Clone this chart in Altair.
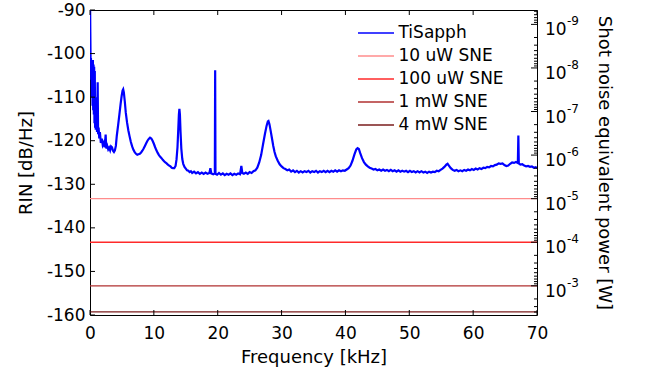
import altair as alt
import pandas as pd

# ---------------- data ----------------
freq_khz = [
    0.00, 0.05, 0.10, 0.15, 0.20, 0.25, 0.30, 0.35, 0.40, 0.45,
    0.50, 0.55, 0.60, 0.65, 0.70, 0.75, 0.80, 0.85, 0.90, 1.00,
    1.10, 1.20, 1.27, 1.35, 1.45, 1.55, 1.70, 1.85, 2.00, 2.15,
    2.30, 2.45, 2.55, 2.70, 2.85, 3.00, 3.15, 3.30, 3.45, 3.60,
    3.75, 3.90, 4.05, 4.20, 4.40, 4.60, 4.80, 4.95, 5.10, 5.20,
    5.30, 5.45, 5.60, 5.80, 6.00, 6.20, 6.40, 6.60, 6.80, 7.00,
    7.20, 7.40, 7.60, 7.80, 8.00, 8.20, 8.40, 8.60, 8.80, 9.00,
    9.20, 9.40, 9.60, 9.80, 10.00, 10.20, 10.40, 10.60, 10.80, 11.00,
    11.20, 11.40, 11.60, 11.80, 12.00, 12.20, 12.40, 12.60, 12.80, 13.00,
    13.20, 13.40, 13.55, 13.70, 13.82, 13.92, 14.00, 14.08, 14.18, 14.30,
    14.45, 14.60, 14.80, 15.00, 15.20, 15.40, 15.60, 15.80, 16.00, 16.30,
    16.60, 16.90, 17.20, 17.50, 17.80, 18.10, 18.40, 18.70, 18.85, 19.00,
    19.30, 19.55, 19.60, 19.65, 19.90, 20.20, 20.50, 20.80, 21.10, 21.40,
    21.70, 22.00, 22.30, 22.60, 22.90, 23.20, 23.50, 23.70, 23.85, 24.10,
    24.40, 24.70, 25.00, 25.30, 25.60, 25.90, 26.20, 26.50, 26.80, 27.10,
    27.40, 27.65, 27.85, 27.95, 28.10, 28.30, 28.50, 28.70, 28.90, 29.10,
    29.40, 29.70, 30.00, 30.30, 30.60, 30.90, 31.20, 31.50, 31.80, 32.10,
    32.40, 32.70, 33.00, 33.30, 33.60, 33.90, 34.20, 34.50, 34.80, 35.10,
    35.40, 35.70, 36.00, 36.30, 36.60, 36.90, 37.20, 37.50, 37.80, 38.10,
    38.40, 38.70, 39.00, 39.30, 39.60, 39.90, 40.20, 40.50, 40.80, 41.10,
    41.40, 41.70, 41.90, 42.10, 42.30, 42.60, 42.90, 43.20, 43.50, 43.80,
    44.10, 44.40, 44.70, 45.00, 45.30, 45.60, 45.90, 46.20, 46.50, 46.80,
    47.10, 47.40, 47.70, 48.00, 48.30, 48.60, 48.90, 49.20, 49.50, 49.80,
    50.10, 50.40, 50.70, 51.00, 51.30, 51.60, 51.90, 52.20, 52.50, 52.80,
    53.10, 53.40, 53.70, 54.00, 54.30, 54.60, 54.90, 55.20, 55.50, 55.80,
    56.00, 56.20, 56.50, 56.80, 57.10, 57.40, 57.70, 58.00, 58.30, 58.60,
    58.90, 59.20, 59.50, 59.80, 60.10, 60.40, 60.70, 61.00, 61.30, 61.60,
    61.90, 62.20, 62.50, 62.80, 63.10, 63.40, 63.70, 64.00, 64.30, 64.60,
    64.90, 65.20, 65.50, 65.80, 66.10, 66.40, 66.70, 67.00, 67.08, 67.15,
    67.40, 67.70, 68.00, 68.30, 68.60, 68.90, 69.20, 69.50, 69.80, 70.00,
]
rin_db = [
    -86, -95, -103, -101, -106, -101.5, -110, -102, -112, -101.5,
    -113, -102.5, -114, -103, -116, -104, -117, -110, -117.5, -114,
    -118, -106.6, -118.5, -117, -119.5, -118, -120.5, -119.5, -121, -120.5,
    -121.5, -118.6, -121.8, -121.2, -122, -121.6, -122.2, -121.3, -121.5, -122.3,
    -122.6, -122.2, -121.2, -118.8, -116.5, -114, -111.5, -109.8, -108.5, -108.2,
    -108.9, -111, -113.5, -115.8, -117.6, -119.0, -120.3, -121.3, -122.1, -122.6,
    -123.0, -123.2, -123.1, -123.0, -122.7, -122.3, -121.8, -121.2, -120.6, -120.0,
    -119.6, -119.3, -119.5, -120.0, -120.7, -121.5, -122.2, -122.8, -123.3, -123.7,
    -124.0, -124.4, -124.7, -125.0, -125.2, -125.5, -125.7, -125.9, -126.2, -126.3,
    -126.3, -125.8, -124.3, -121.5, -117.5, -114.0, -112.7, -114.0, -118.0, -121.8,
    -124.2, -125.3, -126.0, -126.4, -126.8, -126.9, -127.2, -127.0, -127.4, -127.1,
    -127.5, -127.2, -127.6, -127.3, -127.6, -127.3, -127.6, -127.4, -126.3, -127.5,
    -127.7, -127.5, -103.8, -127.6, -127.8, -127.4, -127.8, -127.5, -127.9, -127.6,
    -127.8, -127.5, -127.9, -127.6, -127.8, -127.5, -127.7, -125.8, -127.4, -127.6,
    -127.3, -127.6, -127.2, -127.4, -127.0, -126.8, -126.2, -125.0, -123.3, -120.8,
    -118.4, -116.6, -115.6, -115.5, -116.2, -117.8, -119.5, -121.2, -122.6, -123.6,
    -124.6, -125.4, -125.9, -126.3, -126.5, -126.8, -126.6, -127.1, -126.8, -127.2,
    -126.9, -127.3, -127.0, -127.3, -127.0, -127.2, -126.9, -127.3, -127.0, -127.2,
    -126.9, -127.3, -127.0, -127.2, -126.9, -127.2, -126.9, -127.2, -126.9, -127.1,
    -126.8, -127.1, -126.8, -127.0, -126.8, -126.9, -126.6, -126.3, -125.7, -124.6,
    -123.2, -122.0, -121.7, -121.9, -122.8, -124.0, -124.9, -125.5, -125.9, -126.2,
    -126.4, -126.6, -126.5, -126.8, -126.6, -126.9, -126.6, -126.9, -126.7, -127.0,
    -126.7, -127.0, -126.8, -127.1, -126.8, -127.1, -126.9, -127.1, -126.9, -127.2,
    -126.9, -127.2, -127.0, -127.3, -127.0, -127.3, -127.0, -127.3, -127.1, -127.4,
    -127.1, -127.3, -127.1, -127.2, -126.9, -127.0, -126.7, -126.4, -126.0, -125.5,
    -125.3, -125.7, -126.3, -126.7, -126.9, -126.7, -127.0, -126.8, -127.0, -126.7,
    -126.9, -126.6, -126.8, -126.5, -126.7, -126.4, -126.6, -126.3, -126.5, -126.2,
    -126.3, -126.0, -126.1, -125.8, -125.9, -125.6, -125.5, -125.2, -125.3, -125.2,
    -125.6, -125.8, -125.7, -125.3, -125.0, -125.1, -124.9, -125.1, -118.8, -125.2,
    -125.5, -125.4, -125.7, -125.9, -125.8, -126.0, -125.9, -126.2, -126.1, -126.3,
]

sne_labels = ["10 uW SNE", "100 uW SNE", "1 mW SNE", "4 mW SNE"]
sne_rin_db = [-133.3, -143.3, -153.3, -159.3]

series_names = ["TiSapph"] + sne_labels
series_colors = ["#0000ff", "#ff8c8c", "#ff2a2a", "#b03030", "#7a1c1c"]

x_ticks = [0, 10, 20, 30, 40, 50, 60, 70]
y_ticks = [-160, -150, -140, -130, -120, -110, -100, -90]
power_exps = [-9, -8, -7, -6, -5, -4, -3]
minor_mults = [2, 3, 4, 5, 6, 7, 8, 9]

# shot-noise RIN at 1 W (dB/Hz): RIN = SN_1W - 10*log10(P)
SN_1W = -183.3
Y_MIN, Y_MAX = -160, -90
P_TOP = 10 ** ((SN_1W - Y_MAX) / 10)
P_BOT = 10 ** ((SN_1W - Y_MIN) / 10)

W, H = 447, 305
FONT = "DejaVu Sans"

# ---------------- tables ----------------
spec_df = pd.DataFrame({"f": freq_khz, "rin": rin_db, "series": "TiSapph"})
sne_df = pd.DataFrame({"rin": sne_rin_db, "series": sne_labels})
yt_df = pd.DataFrame({"rin": y_ticks})
xt_df = pd.DataFrame({"f": x_ticks})
pmaj_df = pd.DataFrame({
    "p": [10.0 ** e for e in power_exps],
    "base": ["10"] * len(power_exps),
    "exp": [str(e) for e in power_exps],
})
pmin_vals = [m * 10.0 ** e for e in range(-10, -2) for m in minor_mults]
pmin_vals = [v for v in pmin_vals if P_TOP <= v <= P_BOT]
pmin_df = pd.DataFrame({"p": pmin_vals})

# ---------------- encodings ----------------
x_enc = alt.X(
    "f:Q",
    scale=alt.Scale(domain=[0, 70], nice=False, zero=False),
    axis=alt.Axis(values=x_ticks, ticks=False, domain=False, grid=False,
                  labelFlush=False, labelFontSize=17, labelPadding=10,
                  labelExpr="'' + datum.value",
                  title="Frequency [kHz]", titleFontSize=18, titlePadding=7,
                  titleFontWeight="normal"),
)
y_enc = alt.Y(
    "rin:Q",
    scale=alt.Scale(domain=[Y_MIN, Y_MAX], nice=False, zero=False),
    axis=alt.Axis(values=y_ticks, ticks=False, domain=False, grid=False,
                  labelFontSize=17, labelPadding=5,
                  labelExpr="'' + datum.value",
                  title="RIN [dB/Hz]", titleFontSize=18, titlePadding=11,
                  titleFontWeight="normal"),
)
p_enc = alt.Y(
    "p:Q",
    scale=alt.Scale(type="log", domain=[P_TOP, P_BOT], reverse=True, nice=False),
    axis=alt.Axis(orient="right", labels=False, ticks=False, domain=False, grid=False,
                  minExtent=0, title="Shot noise equivalent power [W]",
                  titleFontSize=18, titleFontWeight="normal", titleAngle=90,
                  titlePadding=57),
)
color_enc = alt.Color(
    "series:N",
    scale=alt.Scale(domain=series_names, range=series_colors),
    legend=alt.Legend(title=None, orient="none", legendX=277.5, legendY=14.5,
                      symbolType="M-4,0H4", symbolSize=81, symbolStrokeWidth=1.3,
                      labelFontSize=17, labelOffset=14, rowPadding=5, padding=0,
                      labelFont=FONT, labelColor="#000"),
)

# ---------------- left (RIN) layer ----------------
spectrum = alt.Chart(spec_df).mark_line(strokeWidth=2.2, clip=True).encode(
    x=x_enc, y=y_enc, color=color_enc
)
sne = alt.Chart(sne_df).mark_rule(strokeWidth=1.3).encode(y=y_enc, color=color_enc)
left_ticks = alt.Chart(yt_df).mark_rule(color="#000", strokeWidth=1).encode(
    y=y_enc, x=alt.value(0), x2=alt.value(5)
)
bottom_ticks = alt.Chart(xt_df).mark_rule(color="#000", strokeWidth=1).encode(
    x=x_enc, y=alt.value(H), y2=alt.value(H - 5)
)
top_ticks = alt.Chart(xt_df).mark_rule(color="#000", strokeWidth=1).encode(
    x=x_enc, y=alt.value(0), y2=alt.value(5)
)
left = alt.layer(sne, spectrum, left_ticks, bottom_ticks, top_ticks)

# ---------------- right (power) layer ----------------
maj_ticks = alt.Chart(pmaj_df).mark_rule(color="#000", strokeWidth=1).encode(
    y=p_enc, x=alt.value(W), x2=alt.value(W - 6)
)
min_ticks = alt.Chart(pmin_df).mark_rule(color="#000", strokeWidth=1).encode(
    y=p_enc, x=alt.value(W), x2=alt.value(W - 3)
)
base_text = alt.Chart(pmaj_df).mark_text(
    align="left", baseline="alphabetic", dx=8, dy=11, fontSize=17, font=FONT, color="#000"
).encode(y=p_enc, x=alt.value(W), text="base:N")
exp_text = alt.Chart(pmaj_df).mark_text(
    align="left", baseline="alphabetic", dx=30, dy=1, fontSize=12, font=FONT, color="#000"
).encode(y=p_enc, x=alt.value(W), text="exp:N")
right = alt.layer(maj_ticks, min_ticks, base_text, exp_text)

chart = (
    alt.layer(left, right)
    .resolve_scale(y="independent")
    .properties(
        width=W, height=H,
        padding={"left": 90, "top": 10, "right": 109, "bottom": 56},
        autosize=alt.AutoSizeParams(type="none"),
        background="white",
    )
    .configure(font=FONT)
    .configure_view(stroke="#000", strokeWidth=1)
    .configure_axis(labelColor="#000", titleColor="#000", labelFont=FONT, titleFont=FONT)
)

chart.save("out.html", embed_options={"renderer": "svg", "actions": False})
